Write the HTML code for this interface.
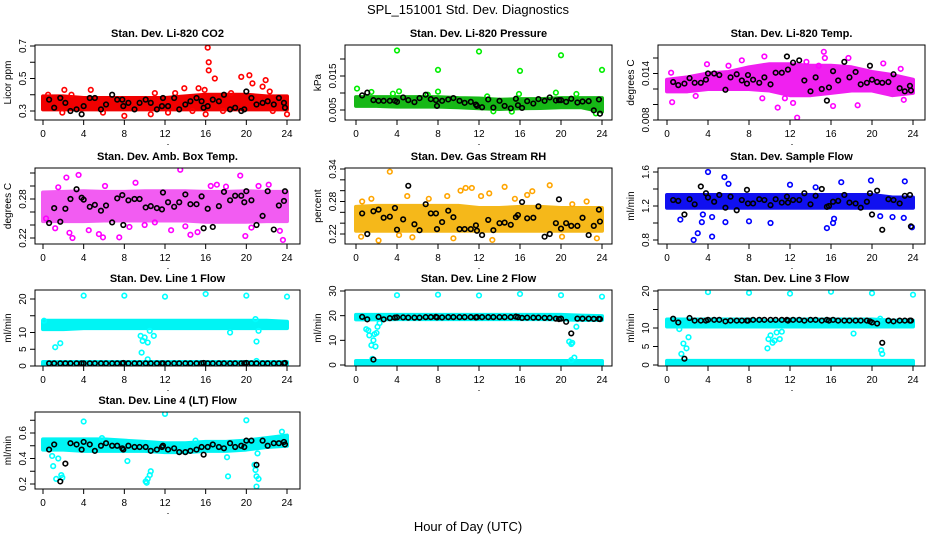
<!DOCTYPE html>
<html><head><meta charset="utf-8"><title>SPL_151001 Std. Dev. Diagnostics</title>
<style>
html,body{margin:0;padding:0;background:#fff;}
svg{display:block;font-family:"Liberation Sans",Arial,sans-serif;}
</style></head>
<body>
<svg id="chart" width="936" height="540" viewBox="0 0 936 540" xmlns="http://www.w3.org/2000/svg">
<rect x="0" y="0" width="936" height="540" fill="#fff"/>
<text x="468" y="14" text-anchor="middle" font-size="13">SPL_151001  Std. Dev. Diagnostics</text>
<text x="468" y="531" text-anchor="middle" font-size="13">Hour of Day (UTC)</text>
<g id="panels"></g>
</svg>
<script>
// ---- shared data ----
const bandHours = [0,2,4,6,8,10,12,14,16,18,20,22,24];
const blackHours = [0.6,1.1,1.7,2.2,2.7,3.3,3.8,4.0,4.6,5.1,5.7,6.2,6.8,7.3,7.8,7.9,8.4,9.0,9.5,10.1,10.6,11.2,11.7,11.8,12.3,12.9,13.4,14.0,14.5,15.1,15.6,15.8,16.2,16.7,17.3,17.8,18.4,18.9,19.5,19.8,20.0,20.5,21.0,21.6,22.1,22.7,23.2,23.7,23.8];
const xTicks = [0,4,8,12,16,20,24];

// ---- CO2 ----
const co2BandLo = [0.31,0.31,0.31,0.31,0.31,0.31,0.31,0.31,0.31,0.31,0.31,0.31,0.31];
const co2BandHi = [0.39,0.39,0.38,0.38,0.38,0.38,0.38,0.39,0.40,0.40,0.40,0.39,0.39];
const co2PtX = [16.2,16.3,16.3,16.9,19.5,20.3,20.6,21.9,21.6,13.9,2.1,4.7,8.0,10.6,16.0,24,1.9,5.9,12.3,14.7,17.7,22.6,0.5,2.8,11.0,13.0,18.5,22.3,15.3,15.9];
const co2PtY = [0.69,0.60,0.55,0.50,0.51,0.52,0.47,0.49,0.45,0.44,0.43,0.43,0.27,0.28,0.28,0.28,0.29,0.29,0.29,0.30,0.30,0.30,0.40,0.40,0.41,0.41,0.41,0.42,0.44,0.43];
const co2BlackY = [0.37,0.32,0.38,0.35,0.30,0.31,0.28,0.33,0.38,0.38,0.31,0.34,0.40,0.37,0.37,0.33,0.35,0.31,0.35,0.37,0.35,0.31,0.33,0.38,0.33,0.38,0.31,0.34,0.36,0.38,0.36,0.32,0.33,0.37,0.36,0.40,0.31,0.32,0.30,0.31,0.42,0.38,0.34,0.35,0.36,0.34,0.38,0.35,0.32];

// ---- Pressure ----
const presBandLo = [0.0062,0.0062,0.006,0.006,0.006,0.0058,0.0055,0.0053,0.0055,0.0056,0.0058,0.0058,0.0045];
const presBandHi = [0.0088,0.0088,0.0088,0.0088,0.0088,0.0085,0.0084,0.008,0.0082,0.0082,0.0085,0.0085,0.0085];
const presPtX = [4.0,12.0,20.0,8.0,16.0,24.0,0.1,1.5,3.6,4.2,8.0,15.9,19.5,21.5,23.4,15.2,13.4,7.0,12.8];
const presPtY = [0.0225,0.0222,0.0211,0.0168,0.0165,0.0168,0.0113,0.0103,0.0098,0.0105,0.0104,0.0097,0.0101,0.0097,0.0040,0.0045,0.0046,0.0095,0.0090];
const presBlackY = [0.0093,0.0101,0.0079,0.0077,0.0077,0.0077,0.0077,0.0074,0.0087,0.0079,0.0073,0.0085,0.0095,0.0082,0.0079,0.0062,0.0077,0.0081,0.0085,0.0077,0.0071,0.0074,0.0066,0.0062,0.0058,0.0081,0.0057,0.0077,0.0062,0.0055,0.0083,0.0064,0.0056,0.0076,0.0069,0.0082,0.0077,0.0087,0.0078,0.0079,0.0079,0.0074,0.0083,0.0072,0.0075,0.0076,0.0049,0.0081,0.0039];

// ---- Li-820 Temp ----
const tempBandLo = [0.0117,0.0117,0.0120,0.0120,0.0120,0.0118,0.0112,0.0112,0.0115,0.0118,0.0118,0.0112,0.0115];
const tempBandHi = [0.0132,0.0135,0.0140,0.0142,0.0148,0.0152,0.0152,0.0150,0.0150,0.0148,0.0142,0.0138,0.0132];
const tempPtX = [0.4,0.5,2.8,3.9,7.3,9.5,10.8,12.7,12.3,15.3,15.4,16.2,17.7,18.6,21.1,23.1,22.8,11.5,14.8,6.0,9.3,13.6];
const tempPtY = [0.0141,0.0103,0.0111,0.0152,0.0157,0.0162,0.0096,0.0083,0.0102,0.0168,0.0160,0.0098,0.0160,0.0099,0.0153,0.0106,0.0146,0.0108,0.0150,0.0150,0.0108,0.0155];
const tempBlackY = [0.0129,0.0125,0.0127,0.0134,0.0128,0.0128,0.0132,0.0140,0.0140,0.0138,0.0119,0.0135,0.0139,0.0131,0.0127,0.0138,0.0132,0.0128,0.0135,0.0126,0.0141,0.0141,0.0162,0.0145,0.0154,0.0157,0.0131,0.0117,0.0135,0.0120,0.0105,0.0122,0.0143,0.0131,0.0155,0.0135,0.0142,0.0126,0.0128,0.0150,0.0132,0.0129,0.0128,0.0129,0.0139,0.0121,0.0117,0.0124,0.0118];

// ---- Amb Box Temp ----
const ambBandLo = [0.246,0.246,0.246,0.247,0.247,0.247,0.247,0.247,0.245,0.245,0.245,0.246,0.246];
const ambBandHi = [0.290,0.291,0.292,0.291,0.291,0.292,0.292,0.292,0.291,0.291,0.292,0.291,0.291];
const ambPtX = [1.2,2.3,2.6,2.9,3.5,4.5,5.5,5.9,7.5,9.1,10.0,12.6,13.5,14.5,15.2,16.5,17.1,19.4,19.9,21.2,22.2,23.3,23.6,0.3,6.1,11.0,1.5,8.5,14.0,18.0,20.5];
const ambPtY = [0.235,0.313,0.228,0.220,0.317,0.232,0.226,0.221,0.221,0.305,0.240,0.232,0.325,0.225,0.229,0.300,0.302,0.316,0.223,0.300,0.302,0.231,0.217,0.250,0.300,0.244,0.298,0.237,0.238,0.299,0.236];
const ambBlackY = [0.243,0.266,0.245,0.265,0.280,0.295,0.282,0.279,0.268,0.271,0.262,0.270,0.244,0.281,0.286,0.240,0.278,0.280,0.280,0.267,0.269,0.266,0.264,0.290,0.275,0.268,0.275,0.287,0.272,0.272,0.284,0.235,0.265,0.237,0.269,0.291,0.278,0.285,0.285,0.275,0.292,0.278,0.240,0.254,0.292,0.233,0.270,0.277,0.292];

// ---- Gas Stream RH ----
const rhBandLo = [0.226,0.226,0.226,0.226,0.226,0.226,0.226,0.226,0.226,0.226,0.226,0.226,0.226];
const rhBandHi = [0.270,0.272,0.272,0.272,0.272,0.272,0.268,0.268,0.270,0.270,0.268,0.268,0.268];
const rhPtX = [0.5,2.2,3.3,5.0,5.5,9.5,10.2,10.7,11.3,12.2,13.0,13.3,14.5,16.7,17.2,18.9,20.1,21.1,23.5,0.6,1.5,7.1,8.9,4.2,15.5,22.5];
const rhPtY = [0.215,0.208,0.335,0.290,0.214,0.212,0.300,0.305,0.305,0.290,0.295,0.209,0.307,0.292,0.299,0.310,0.215,0.275,0.212,0.280,0.285,0.285,0.290,0.218,0.285,0.280];
const rhBlackY = [0.258,0.220,0.262,0.265,0.250,0.252,0.268,0.228,0.247,0.309,0.238,0.227,0.275,0.258,0.258,0.229,0.242,0.263,0.251,0.229,0.229,0.229,0.236,0.226,0.218,0.246,0.227,0.240,0.241,0.237,0.251,0.255,0.279,0.249,0.250,0.271,0.215,0.220,0.240,0.284,0.230,0.240,0.235,0.235,0.250,0.218,0.235,0.265,0.243];

// ---- Sample Flow ----
const sfBandLo = [1.18,1.18,1.18,1.18,1.18,1.18,1.18,1.18,1.18,1.18,1.18,1.18,1.18];
const sfBandHi = [1.33,1.33,1.33,1.33,1.33,1.33,1.33,1.33,1.33,1.33,1.33,1.30,1.30];
const sfPtX = [4.0,5.6,2.6,3.0,4.4,3.4,5.7,8.0,10.1,1.3,16.2,16.3,17.0,19.9,15.6,23.2,23.9,22.0,12.0,14.5,3.5,4.4,6.0,20.8,23.1];
const sfPtY = [1.60,1.54,0.80,0.88,0.84,1.01,1.01,1.02,1.00,1.04,1.00,1.05,1.48,1.50,0.94,1.49,0.95,1.07,1.45,1.42,1.10,1.07,1.46,1.08,1.06];
const sfBlackY = [1.27,1.26,1.10,1.28,1.22,1.43,1.35,1.30,1.25,1.33,1.18,1.31,1.15,1.27,1.39,1.23,1.23,1.28,1.27,1.21,1.28,1.24,1.31,1.24,1.27,1.27,1.35,1.22,1.32,1.40,1.19,1.20,1.25,1.26,1.33,1.24,1.23,1.18,1.25,1.35,1.10,1.38,0.92,1.28,1.27,1.23,1.32,1.33,0.96];

// ---- Line 1 ----
const l1BandLo = [11.0,11.0,11.3,11.3,11.3,11.3,11.3,11.3,11.3,11.3,11.3,11.3,11.3];
const l1BandHi = [13.5,13.5,13.5,13.5,13.5,13.5,13.5,13.5,13.5,13.5,13.5,13.5,13.2];
const l1Band2Lo = [0.4,0.4,0.4,0.4,0.4,0.4,0.4,0.4,0.4,0.4,0.4,0.4,0.4];
const l1Band2Hi = [1.2,1.2,1.2,1.2,1.2,1.2,1.2,1.2,1.2,1.2,1.2,1.2,1.2];
const l1PtX = [4,8,12,16,20,24,1.2,1.7,9.6,9.8,9.7,10.0,10.3,10.5,10.9,10.3,18.4,20.9,21.0,21.2,21.0,0.1];
const l1PtY = [21,21,20.7,21.5,21,20.7,5.6,6.8,9,7.5,4.0,8.5,7,10.5,9,2,10,14,7.3,10.5,1.5,13.5];
const l1BlackY = [0.8,0.8,0.8,0.8,0.8,0.8,0.8,0.8,0.8,0.8,0.8,0.8,0.8,0.8,0.8,0.9,0.8,0.8,0.8,0.8,0.8,0.8,0.8,0.8,0.8,0.8,0.8,0.8,0.8,0.8,0.8,0.9,0.8,0.8,0.8,0.8,0.8,0.8,0.8,0.8,0.9,0.8,0.8,0.8,0.8,0.8,0.8,0.8,0.9];

// ---- Line 2 ----
const l2BandLo = [18.5,18.5,18.6,18.6,18.6,18.6,18.6,18.6,18.6,18.6,18.5,18.3,18.3];
const l2BandHi = [20.3,20.3,20.3,20.3,20.3,20.3,20.3,20.3,20.3,20.3,20.3,20.0,19.8];
const l2Band2Lo = [0.1,0.1,0.1,0.1,0.1,0.1,0.1,0.1,0.1,0.1,0.1,0.1,0.1];
const l2Band2Hi = [1.6,1.6,1.6,1.6,1.6,1.6,1.6,1.6,1.6,1.6,1.6,1.6,1.6];
const l2PtX = [4,8,12,16,20,24,1.0,1.2,1.3,1.5,1.7,1.8,1.9,2.0,2.1,2.3,20.8,21.0,21.1,21.3,21.5,21.0,1.6];
const l2PtY = [28.3,28.5,28.2,28.8,28.3,27.7,14.5,14,12,8,10,12.5,7.5,13,15.5,17,9.5,8.5,9,3,15.5,2,2.5];
const l2BlackY = [19.5,18.5,2.2,19.5,18.5,19,19.2,19.3,19.3,19.2,19.2,19.2,19.4,19.4,19.5,19.3,19.3,19.4,19.4,19.4,19.4,19.4,19.3,19.4,19.4,19.4,19.4,19.4,19.4,19.4,19.6,19.4,19.1,19.2,19.2,19.2,19.1,19.1,18.8,18.6,18.8,17.5,12.8,18.8,18.8,18.8,18.7,18.7,18.6];

// ---- Line 3 ----
const l3BandLo = [10.4,10.4,10.4,10.4,10.4,10.4,10.4,10.4,10.4,10.4,10.4,10.4,10.4];
const l3BandHi = [12.3,12.3,12.3,12.3,12.3,11.8,12.3,12.3,12.3,12.3,12.3,12.0,12.0];
const l3Band2Lo = [0.1,0.1,0.1,0.1,0.1,0.1,0.1,0.1,0.1,0.1,0.1,0.1,0.1];
const l3Band2Hi = [1.1,1.1,1.1,1.1,1.1,1.1,1.1,1.1,1.1,1.1,1.1,1.1,1.1];
const l3PtX = [4,8,12,16,20,24,1.2,1.4,1.6,1.9,2.1,9.8,9.9,10.1,10.3,10.5,10.7,11.0,11.2,18.2,20.9,21.0,20.8];
const l3PtY = [19.7,19.5,19.3,19.8,19.4,19.0,9.7,3,5.8,4.5,7.5,4.5,7,8,6,6.6,8.8,7,9,8.5,4,3,12.5];
const l3BlackY = [12.5,11.5,1.7,12.7,12.0,12.0,12.0,12.2,12.2,12.2,11.8,12.0,12.0,12.0,12.0,12.0,12.2,12.2,12.2,12.2,12.2,12.2,12.2,12.0,12.2,12.2,12.0,12.2,12.2,12.0,12.2,12.0,12.2,12.0,12.0,12.0,12.0,12.0,12.0,11.8,11.5,11.2,6.0,12.0,11.8,12.0,12.0,12.0,12.0];

// ---- Line 4 ----
const l4BandLo = [0.47,0.47,0.46,0.46,0.46,0.46,0.45,0.45,0.46,0.46,0.47,0.49,0.50];
const l4BandHi = [0.55,0.55,0.55,0.55,0.54,0.53,0.52,0.52,0.53,0.53,0.54,0.56,0.58];
const l4PtX = [4,12,20,23.5,0.9,1.0,1.3,1.5,1.8,1.9,8.3,10.1,10.3,10.5,10.6,10.2,18.1,18.2,20.8,20.9,21.0,21.1,21.2,21.0,5.8,15.0];
const l4PtY = [0.69,0.75,0.70,0.61,0.42,0.34,0.24,0.40,0.27,0.25,0.38,0.22,0.24,0.27,0.30,0.21,0.41,0.26,0.35,0.31,0.26,0.44,0.24,0.18,0.56,0.54];
const l4BlackY = [0.47,0.51,0.22,0.36,0.52,0.51,0.47,0.53,0.51,0.46,0.50,0.52,0.50,0.50,0.48,0.47,0.50,0.49,0.49,0.49,0.46,0.47,0.49,0.50,0.47,0.48,0.45,0.45,0.46,0.47,0.49,0.43,0.49,0.51,0.49,0.48,0.52,0.49,0.50,0.49,0.54,0.54,0.35,0.54,0.50,0.52,0.52,0.53,0.51];

// ---- tick arrays ----
const co2Ticks=[0.3,0.4,0.5,0.6,0.7], co2Labels=["0.3","","0.5","","0.7"];
const presTicks=[0.005,0.010,0.015,0.020], presLabels=["0.005","","0.015",""];
const tempTicks=[0.008,0.010,0.012,0.014,0.016], tempLabels=["0.008","","","0.014",""];
const ambTicks=[0.22,0.24,0.26,0.28,0.30,0.32], ambLabels=["0.22","","","0.28","",""];
const rhTicks=[0.22,0.24,0.26,0.28,0.30,0.32,0.34], rhLabels=["0.22","","","0.28","","","0.34"];
const sfTicks=[0.8,1.0,1.2,1.4,1.6], sfLabels=["0.8","","1.2","","1.6"];
const l1Ticks=[0,5,10,15,20], l1Labels=["0","5","10","","20"];
const l2Ticks=[0,10,20,30], l2Labels=["0","10","20","30"];
const l3Ticks=[0,5,10,15,20], l3Labels=["0","5","10","","20"];
const l4Ticks=[0.2,0.3,0.4,0.5,0.6,0.7], l4Labels=["0.2","","0.4","","0.6",""];

const COLS=[{l:35,r:300,x0:43,x24:287},{l:345,r:612,x0:356,x24:602},{l:658,r:925,x0:667,x24:913}];
const ROWS=[{t:45,b:120},{t:168,b:244},{t:290,b:366},{t:412,b:489}];

const panels=[
 {name:"co2",title:"Stan. Dev. Li-820 CO2",ylab:"Licor ppm",c:0,r:0,ya:[0.3,111,0.7,46],col:"#ff0000",band:"#f00000",lo:co2BandLo,hi:co2BandHi,px:co2PtX,py:co2PtY,by:co2BlackY,ticks:co2Ticks,labels:co2Labels},
 {name:"pressure",title:"Stan. Dev. Li-820 Pressure",ylab:"kPa",c:1,r:0,ya:[0.005,110,0.020,59],col:"#00ee00",band:"#16b816",lo:presBandLo,hi:presBandHi,px:presPtX,py:presPtY,by:presBlackY,ticks:presTicks,labels:presLabels},
 {name:"li820-temp",title:"Stan. Dev. Li-820 Temp.",ylab:"degrees C",c:2,r:0,ya:[0.008,120,0.016,58],col:"#ff00ff",band:"#f020f0",lo:tempBandLo,hi:tempBandHi,px:tempPtX,py:tempPtY,by:tempBlackY,ticks:tempTicks,labels:tempLabels},
 {name:"amb-box-temp",title:"Stan. Dev. Amb. Box Temp.",ylab:"degrees C",c:0,r:1,ya:[0.22,238,0.28,199],col:"#ff00ff",band:"#f25cf2",lo:ambBandLo,hi:ambBandHi,px:ambPtX,py:ambPtY,by:ambBlackY,ticks:ambTicks,labels:ambLabels},
 {name:"gas-stream-rh",title:"Stan. Dev. Gas Stream RH",ylab:"percent",c:1,r:1,ya:[0.22,234,0.34,169],col:"#ffa500",band:"#f5b81a",lo:rhBandLo,hi:rhBandHi,px:rhPtX,py:rhPtY,by:rhBlackY,ticks:rhTicks,labels:rhLabels},
 {name:"sample-flow",title:"Stan. Dev. Sample Flow",ylab:"ml/min",c:2,r:1,ya:[0.8,240,1.6,172],col:"#0000ff",band:"#1010f0",lo:sfBandLo,hi:sfBandHi,px:sfPtX,py:sfPtY,by:sfBlackY,ticks:sfTicks,labels:sfLabels},
 {name:"line1-flow",title:"Stan. Dev. Line 1 Flow",ylab:"ml/min",c:0,r:2,ya:[0,366,20,299],col:"#00ffff",band:"#00f4f4",lo:l1BandLo,hi:l1BandHi,lo2:l1Band2Lo,hi2:l1Band2Hi,px:l1PtX,py:l1PtY,by:l1BlackY,ticks:l1Ticks,labels:l1Labels},
 {name:"line2-flow",title:"Stan. Dev. Line 2 Flow",ylab:"ml/min",c:1,r:2,ya:[0,365,30,291],col:"#00ffff",band:"#00f4f4",lo:l2BandLo,hi:l2BandHi,lo2:l2Band2Lo,hi2:l2Band2Hi,px:l2PtX,py:l2PtY,by:l2BlackY,ticks:l2Ticks,labels:l2Labels},
 {name:"line3-flow",title:"Stan. Dev. Line 3 Flow",ylab:"ml/min",c:2,r:2,ya:[0,365,20,291],col:"#00ffff",band:"#00f4f4",lo:l3BandLo,hi:l3BandHi,lo2:l3Band2Lo,hi2:l3Band2Hi,px:l3PtX,py:l3PtY,by:l3BlackY,ticks:l3Ticks,labels:l3Labels},
 {name:"line4-flow",title:"Stan. Dev. Line 4 (LT) Flow",ylab:"ml/min",c:0,r:3,ya:[0.2,484,0.6,433],col:"#00ffff",band:"#00f4f4",lo:l4BandLo,hi:l4BandHi,px:l4PtX,py:l4PtY,by:l4BlackY,ticks:l4Ticks,labels:l4Labels}
];

const NS="http://www.w3.org/2000/svg";
const root=document.getElementById("panels");
function mk(tag,attrs,parent){const e=document.createElementNS(NS,tag);for(const k in attrs)e.setAttribute(k,attrs[k]);parent.appendChild(e);return e;}

panels.forEach(p=>{
  const C=COLS[p.c],R=ROWS[p.r];
  const xs=h=>C.x0+(C.x24-C.x0)*h/24;
  const ys=v=>p.ya[1]+(v-p.ya[0])*(p.ya[3]-p.ya[1])/(p.ya[2]-p.ya[0]);
  const g=mk("g",{},root);
  
  
  const clipId="clip-"+p.name;
  const cp=mk("clipPath",{id:clipId},g);
  mk("rect",{x:C.l,y:R.t,width:C.r-C.l,height:R.b-R.t},cp);
  const plot=mk("g",{"clip-path":"url(#"+clipId+")"},g);
  
  
  function band(lo,hi,nm){
    let pts=[];
    bandHours.forEach((h,i)=>pts.push(xs(h)+","+ys(hi[i])));
    for(let i=bandHours.length-1;i>=0;i--)pts.push(xs(bandHours[i])+","+ys(lo[i]));
    const b=mk("polygon",{points:pts.join(" "),fill:p.band,stroke:p.band,"stroke-width":4,"stroke-linejoin":"round"},plot);
    
    
  }
  band(p.lo,p.hi,p.name+'-dense-band');
  if(p.lo2) band(p.lo2,p.hi2,p.name+'-low-band');
  p.px.forEach((x,i)=>{
    const c=mk("circle",{cx:xs(x),cy:ys(p.py[i]),r:2.3,fill:"none",stroke:p.col,"stroke-width":1.6},plot);
    
    
  });
  const n=Math.min(blackHours.length,p.by.length);
  for(let i=0;i<n;i++){
    const c=mk("circle",{cx:xs(blackHours[i]),cy:ys(p.by[i]),r:2.3,fill:"none",stroke:"#000","stroke-width":1.6},plot);
    
    
  }
  const box=mk("rect",{x:C.l,y:R.t,width:C.r-C.l,height:R.b-R.t,fill:"none",stroke:"#000","stroke-width":1},g);
  
  
  const t=mk("text",{x:(C.l+C.r)/2,y:R.t-8,"text-anchor":"middle","font-size":11,"font-weight":"bold"},g);
  t.textContent=p.title;
  
  
  // x axis
  const xa=mk("g",{},g);
  
  
  mk("line",{x1:xs(0),x2:xs(24),y1:R.b,y2:R.b,stroke:"#000"},xa);
  xTicks.forEach(h=>{
    mk("line",{x1:xs(h),x2:xs(h),y1:R.b,y2:R.b+5,stroke:"#000"},xa);
    const tl=mk("text",{x:xs(h),y:R.b+17,"text-anchor":"middle","font-size":10},xa);
    tl.textContent=h;
    
    
  });
  mk("rect",{x:(C.l+C.r)/2,y:R.b+24,width:1,height:1,fill:"#000"},xa);
  // y axis
  const ya=mk("g",{},g);
  
  
  p.ticks.forEach((v,i)=>{
    const y=ys(v);
    mk("line",{x1:C.l-5,x2:C.l,y1:y,y2:y,stroke:"#000"},ya);
    if(p.labels[i]){
      const tl=mk("text",{x:C.l-9,y:y,"text-anchor":"middle","font-size":10,transform:"rotate(-90 "+(C.l-9)+" "+y+")"},ya);
      tl.textContent=p.labels[i];
      
      
    }
  });
  const yl=(R.t+R.b)/2;
  const lab=mk("text",{x:C.l-24,y:yl,"text-anchor":"middle","font-size":10,transform:"rotate(-90 "+(C.l-24)+" "+yl+")"},ya);
  lab.textContent=p.ylab;
  
  
});
</script>
</body></html>
